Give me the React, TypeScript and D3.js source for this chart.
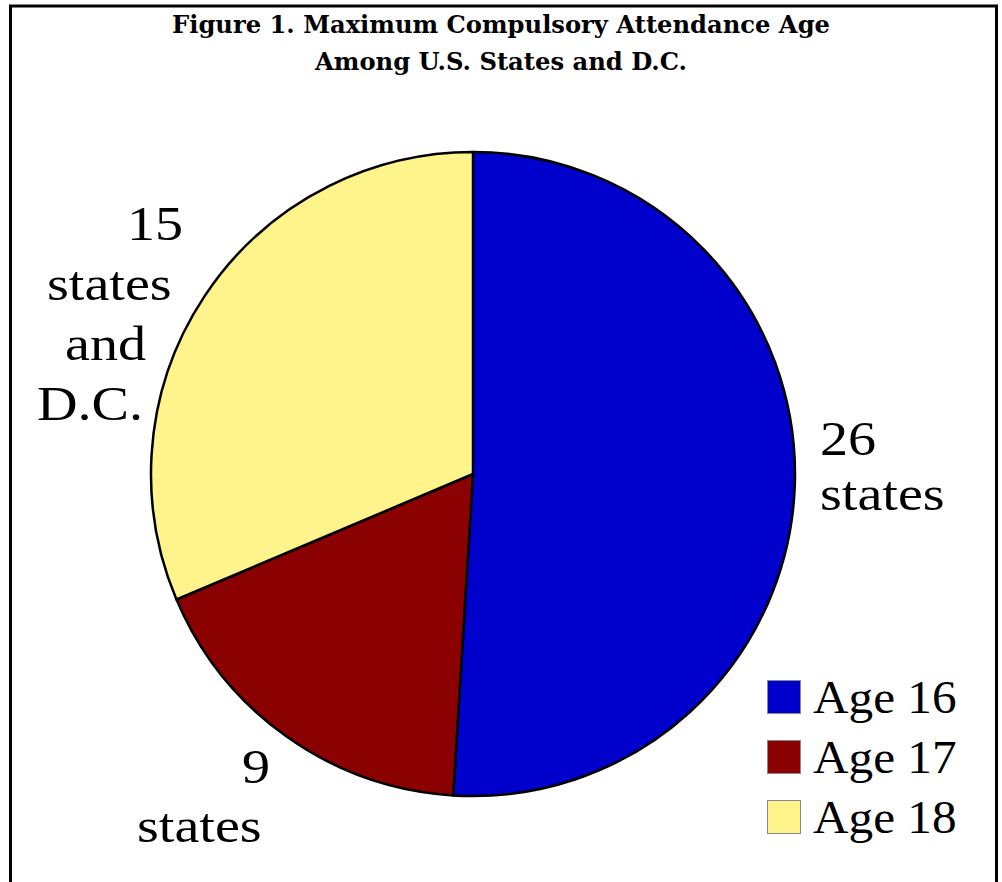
import { arc, pie, PieArcDatum } from "d3";

// chart data
const categories = ["Age 16", "Age 17", "Age 18"];
const stateCounts = [26, 9, 16];
const sliceLabels = [["26", "states"], ["9", "states"], ["15", "states", "and", "D.C."]];
const colors = ["#0000CC", "#8B0000", "#FFF48C"];

const WIDTH = 1002;
const HEIGHT = 882;
const CX = 473;
const CY = 474;
const R = 322;

// where each label line sits (left x, baseline y), tuned by eye
const LABEL_POS = [
  [[820, 455], [820, 510]],
  [[242, 783], [137, 842]],
  [[127, 240], [47, 300], [65, 360], [37, 420]],
];

type Slice = { name: string; value: number; color: string };

export default function App() {
  const slices: Slice[] = categories.map((name, i) => ({
    name,
    value: stateCounts[i],
    color: colors[i],
  }));

  const pieGen = pie<Slice>().value((d) => d.value).sort(null);
  const arcs = pieGen(slices);
  const arcGen = arc<PieArcDatum<Slice>>().innerRadius(0).outerRadius(R);

  const serif = "Liberation Serif";

  return (
    <svg
      width={WIDTH}
      height={HEIGHT}
      style={{ position: "absolute", left: 0, top: 0, background: "#fff" }}
    >
      <rect x={10.5} y={6} width={986} height={HEIGHT + 20} fill="none" stroke="#000" strokeWidth={3} />

      <text
        x={WIDTH / 2}
        y={33}
        textAnchor="middle"
        style={{ fontFamily: "DejaVu Serif", fontWeight: "bold", fontSize: 24 }}
        textLength={658}
        lengthAdjust="spacingAndGlyphs"
      >
        Figure 1. Maximum Compulsory Attendance Age
      </text>
      <text
        x={WIDTH / 2}
        y={70}
        textAnchor="middle"
        style={{ fontFamily: "DejaVu Serif", fontWeight: "bold", fontSize: 24 }}
        textLength={372}
        lengthAdjust="spacingAndGlyphs"
      >
        Among U.S. States and D.C.
      </text>

      <g transform={`translate(${CX},${CY})`}>
        {arcs.map((a, i) => (
          <path key={i} d={arcGen(a) || ""} fill={a.data.color} stroke="#000" strokeWidth={2.5} strokeLinejoin="round" />
        ))}
      </g>

      {sliceLabels.map((lines, i) =>
        lines.map((t, j) => (
          <text
            key={`${i}-${j}`}
            transform={`translate(${LABEL_POS[i][j][0]},${LABEL_POS[i][j][1]}) scale(1.17,1)`}
            style={{ fontFamily: serif, fontSize: 48 }}
            fill="#000"
          >
            {t}
          </text>
        ))
      )}

      {categories.map((c, i) => (
        <g key={c} transform={`translate(767,${680 + i * 60})`}>
          <rect x={0.5} y={0.5} width={33} height={33} fill={colors[i]} stroke="#888" strokeWidth={1} />
          <text transform="translate(46,33) scale(1.07,1)" style={{ fontFamily: serif, fontSize: 46 }} fill="#000">
            {c}
          </text>
        </g>
      ))}
    </svg>
  );
}
